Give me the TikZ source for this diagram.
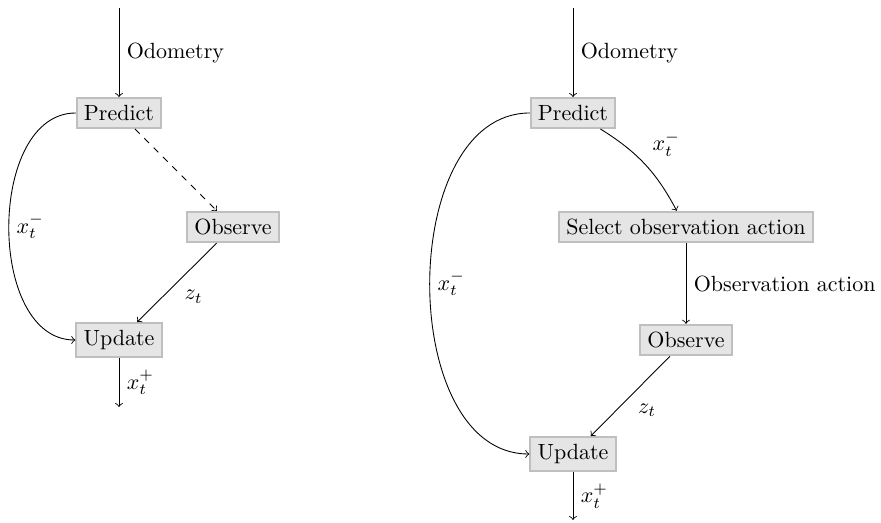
\documentclass[tikz,border=0pt]{standalone}
\usetikzlibrary{arrows}
\begin{document}
\begin{tikzpicture}[x=0.4545pt,y=-0.4545pt,
  blk/.style={draw=black!25,fill=black!10,line width=0.8pt},
  flow/.style={->},
  lbl/.style={font=\normalsize}]
\useasboundingbox (0,0) rectangle (881,523);
% left diagram
\coordinate (Lin) at (119,8);
\coordinate (Lout) at (119,407);
\node[blk] (Lpred) at (119,113) {Predict};
\node[blk] (Lobs) at (233,227) {Observe};
\node[blk] (Lupd) at (119,340) {Update};
\draw[flow] (Lin) -- node[right] {Odometry} (Lpred);
\draw[flow,dashed] (Lpred) -- (Lobs);
\draw[flow] (Lobs) -- node[below right] {$z_t$} (Lupd);
\draw[flow] (Lpred.west) to[out=180,in=180] node[right] {$x_t^-$} (Lupd.west);
\draw[flow] (Lupd) -- node[right] {$x_t^+$} (Lout);
% right diagram
\coordinate (Rin) at (573,8);
\coordinate (Rout) at (573,520);
\node[blk] (Rpred) at (573,113) {Predict};
\node[blk] (Rsel) at (686,227) {Select observation action};
\node[blk] (Robs) at (686,340) {Observe};
\node[blk] (Rupd) at (573,454) {Update};
\draw[flow] (Rin) -- node[right] {Odometry} (Rpred);
\draw[flow] (Rpred) to[bend left=15] node[above right] {$x_t^-$} (Rsel);
\draw[flow] (Rsel) -- node[right] {Observation action} (Robs);
\draw[flow] (Robs) -- node[below right] {$z_t$} (Rupd);
\draw[flow] (Rpred.west) to[out=180,in=180] node[right] {$x_t^-$} (Rupd.west);
\draw[flow] (Rupd) -- node[right] {$x_t^+$} (Rout);
\end{tikzpicture}
\end{document}
